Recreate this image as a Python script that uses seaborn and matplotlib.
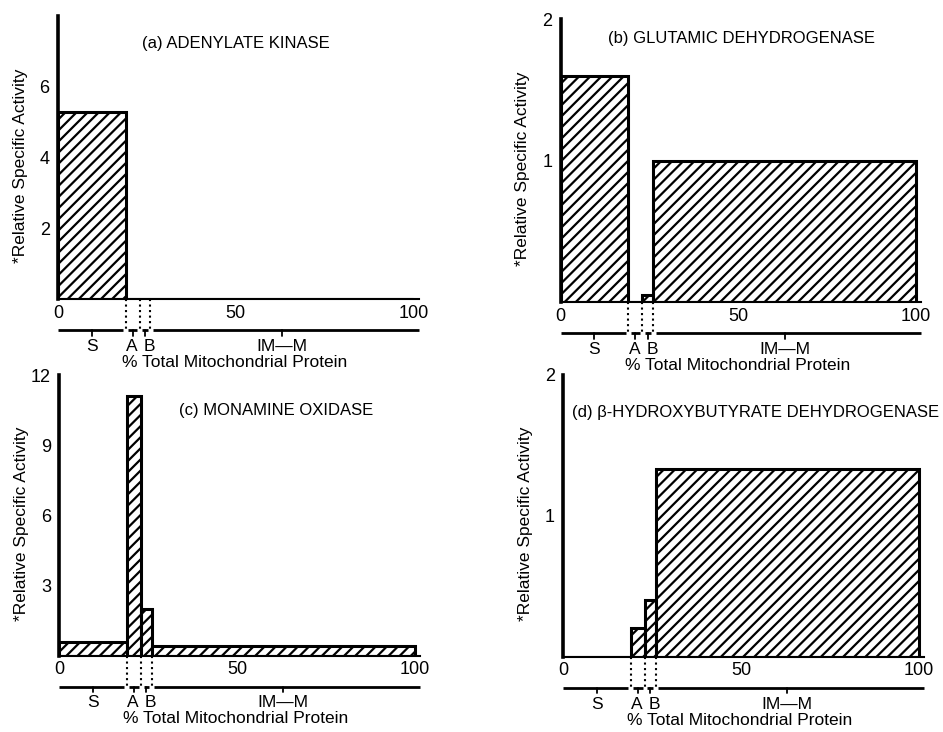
import matplotlib
matplotlib.use("Agg")
import matplotlib.pyplot as plt
import seaborn as sns
import numpy as np

# fraction boundaries (% total mitochondrial protein)
edges = [0, 19, 23, 26, 100]
fractions = ["S", "A", "B", "IM\u2014M"]

adenylate = [5.3, 0.0, 0.0, 0.0]
glutamic = [1.6, 0.0, 0.05, 1.0]
monamine = [0.6, 11.1, 2.0, 0.4]
hydroxy = [0.0, 0.2, 0.4, 1.33]

titles = ["(a) ADENYLATE KINASE", "(b) GLUTAMIC DEHYDROGENASE",
          "(c) MONAMINE OXIDASE", "(d) \u03b2-HYDROXYBUTYRATE DEHYDROGENASE"]

sns.set_style("white")
plt.rcParams["font.family"] = ["Liberation Sans", "DejaVu Sans"]
plt.rcParams["hatch.linewidth"] = 1.6
plt.rcParams["hatch.color"] = "black"
for k in ["text.color", "axes.labelcolor", "xtick.color", "ytick.color", "axes.edgecolor"]:
    plt.rcParams[k] = "black"

fig = plt.figure(figsize=(9.43, 7.32), dpi=100)

panels = [
    # values, axes rect, ylim, yticks, title pos
    (adenylate, [0.0615, 0.5915, 0.3826, 0.3866], 8, [2, 4, 6], (50, 7.23)),
    (glutamic, [0.5946, 0.5874, 0.3826, 0.3866], 2, [1, 2], (51, 1.86)),
    (monamine, [0.0629, 0.1042, 0.3826, 0.3835], 12, [3, 6, 9, 12], (61, 10.5)),
    (hydroxy, [0.5973, 0.1029, 0.3826, 0.3851], 2, [1, 2], (54, 1.73)),
]

mids = [(lo + hi) / 2 for lo, hi in zip(edges[:-1], edges[1:])]
label_shift = [0, -0.3, 1.2, 0]

for (vals, rect, ytop, yt, tpos), title in zip(panels, titles):
    ax = fig.add_axes(rect)
    sns.histplot(x=mids, weights=vals, bins=edges, stat="count", ax=ax,
                 fill=True, color="white", edgecolor="black", linewidth=2.2,
                 hatch="///")
    ax.set_xlim(0, 101.5)
    ax.set_ylim(0, ytop)
    ax.set_xticks([0, 50, 100])
    ax.set_yticks(yt)
    ax.tick_params(axis="x", length=0, pad=4, labelsize=13)
    ax.tick_params(axis="y", direction="out", length=4, width=1.5, pad=2, labelsize=13)
    sns.despine(ax=ax)
    ax.spines["left"].set_linewidth(2.6)
    ax.spines["bottom"].set_linewidth(1.5)

    ax.text(tpos[0], tpos[1], title, ha="center", va="center", fontsize=12)

    ax.set_ylabel("*Relative Specific Activity", fontsize=12.5, va="center")
    ax.yaxis.set_label_coords(-0.105, 0.47)
    ax.set_xlabel("% Total Mitochondrial Protein", fontsize=12.5, va="center")
    ax.xaxis.set_label_coords(0.49, -0.225)

    # fraction scale under the axis
    trans = ax.get_xaxis_transform()
    ybar = -0.11
    gap = 0.7
    for (lo, hi), name, m, sh in zip(zip(edges[:-1], edges[1:]), fractions, mids, label_shift):
        a = lo + gap if lo > 0 else lo
        b = hi - gap if hi < 100 else 101.5
        ax.plot([a, b], [ybar, ybar], transform=trans, color="black", lw=2,
                clip_on=False, solid_capstyle="butt")
        ax.plot([m, m], [ybar, ybar - 0.02], transform=trans, color="black",
                lw=1.3, clip_on=False)
        ax.text(m + sh, ybar - 0.058, name, transform=trans, ha="center", va="center",
                fontsize=12.5)
    for e in edges[1:-1]:
        ax.plot([e, e], [0, ybar], transform=trans, color="black", ls=":",
                lw=1.5, clip_on=False)

fig.savefig("out.png", dpi=100)
